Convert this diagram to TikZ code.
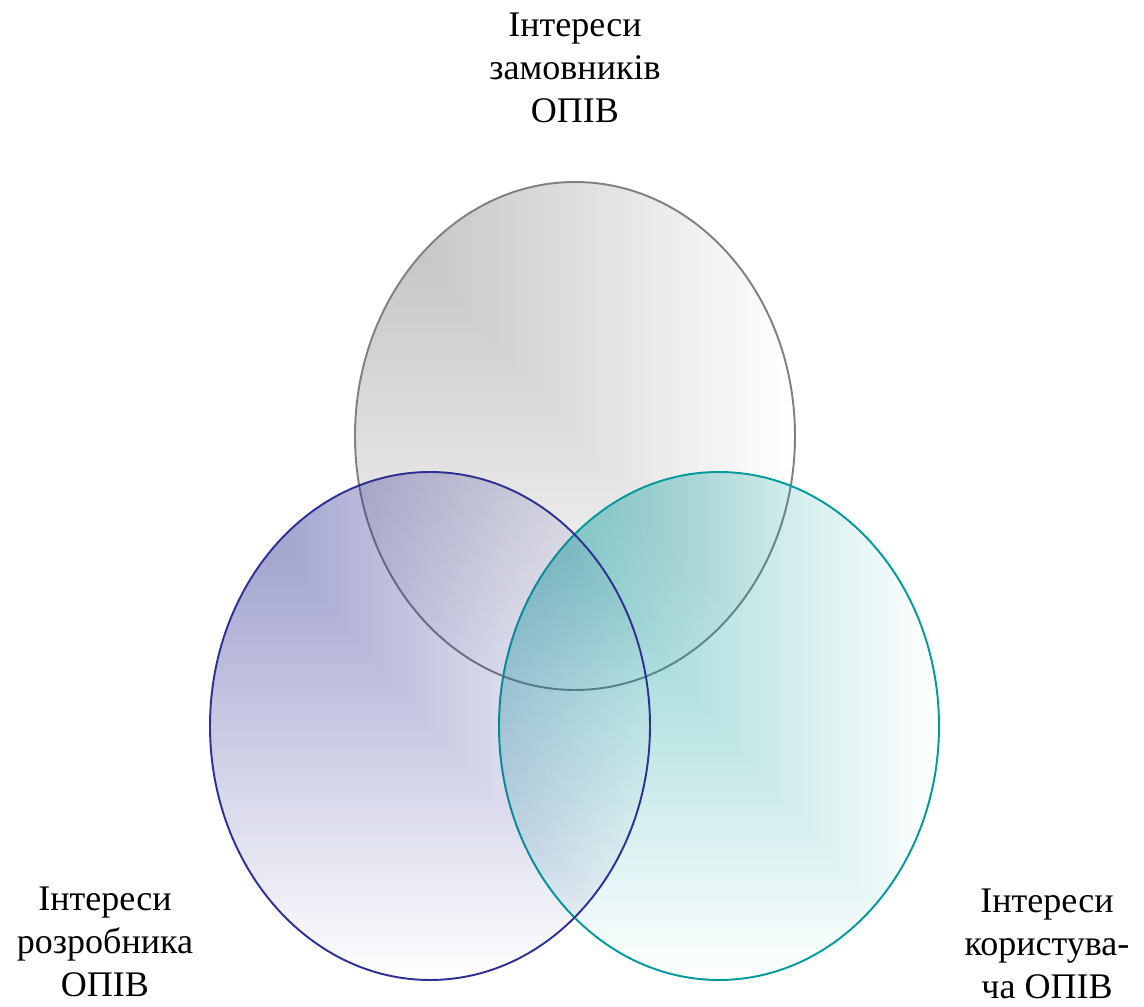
\documentclass[tikz,border=0pt]{standalone}
\usepackage{fontspec}
\setmainfont{Liberation Serif}
\usepackage{xcolor}
\definecolor{greyset}{RGB}{128,128,128}
\definecolor{blueset}{RGB}{46,49,146}
\definecolor{tealset}{RGB}{0,153,153}
\usetikzlibrary{fadings}
\pgfdeclarefunctionalshading{cornerfade}{\pgfpointorigin}{\pgfpoint{100bp}{100bp}}{}{
  75 exch sub 50 div
  exch 25 sub 50 div
  2 copy lt {exch} if pop
  dup 0 lt {pop 0} if
  dup 1 gt {pop 1} if
  1 exch sub 0.52 mul
  dup dup
}
\pgfdeclarefading{cornerfading}{\pgfuseshading{cornerfade}}

\begin{document}
\begin{tikzpicture}[
        x=0.02cm, y=0.02cm,
        ring/.style={fill=#1, path fading=cornerfading},
        rim/.style={draw=#1, line width=1.1pt},
        interest/.style={align=center, inner sep=0pt, font=\fontsize{20.5}{24.4}\selectfont}
    ]
        \useasboundingbox (0,0) rectangle (1144,1007);

        \coordinate (customer) at (575,571);
        \coordinate (user) at (719,281);
        \coordinate (developer) at (430,281);

        \fill[ring=greyset] (customer) ellipse [x radius=220, y radius=254];
        \draw[rim=greyset] (customer) ellipse [x radius=220, y radius=254];
        \fill[ring=tealset] (user) ellipse [x radius=220, y radius=254];
        \draw[rim=tealset] (user) ellipse [x radius=220, y radius=254];
        \fill[ring=blueset] (developer) ellipse [x radius=220, y radius=254];
        \draw[rim=blueset] (developer) ellipse [x radius=220, y radius=254];

        \node[interest] (customertext) at (575,939) {Інтереси\\замовників\\ОПІВ};
        \node[interest] (developertext) at (105,65) {Інтереси\\розробника\\ОПІВ};
        \node[interest] (usertext) at (1047,63) {Інтереси\\користува-\\ча ОПІВ};
    \end{tikzpicture}
\end{document}
